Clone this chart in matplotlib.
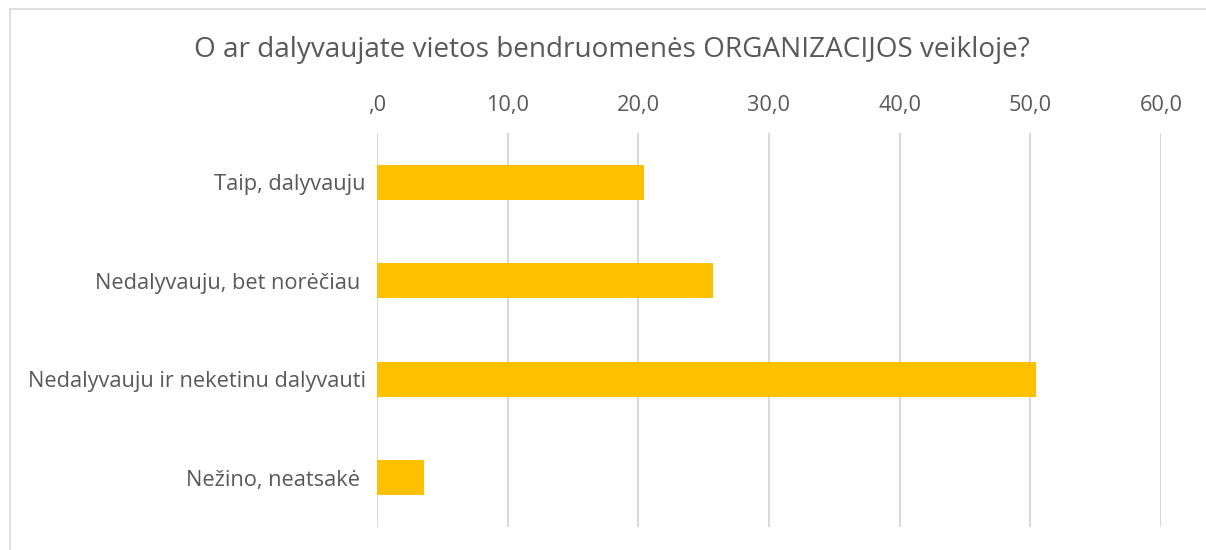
import matplotlib
matplotlib.use("Agg")
import matplotlib.pyplot as plt
from matplotlib.patches import Rectangle

categories = ["Taip, dalyvauju", "Nedalyvauju, bet norėčiau ", "Nedalyvauju ir neketinu dalyvauti", "Nežino, neatsakė "]
values = [20.4, 25.7, 50.4, 3.6]
tick_values = [0, 10, 20, 30, 40, 50, 60]
tick_labels = [",0", "10,0", "20,0", "30,0", "40,0", "50,0", "60,0"]
title = "O ar dalyvaujate vietos bendruomenės ORGANIZACIJOS veikloje?"

plt.rcParams['font.family'] = ['Open Sans', 'DejaVu Sans']
text_color = "#595959"
grid_color = "#d9d9d9"
bar_color = "#FFC000"

fig = plt.figure(figsize=(12.06, 5.5), dpi=100)
ax = fig.add_axes([377/1206, 1-527/550, (1161-377)/1206, (527-133)/550])

y = list(range(len(categories)))
ax.barh(y, values, height=0.355, color=bar_color, zorder=3)
ax.set_ylim(len(categories)-0.5, -0.5)
ax.set_xlim(0, 60)
ax.set_yticks(y)
ax.set_yticklabels(categories, fontsize=15.7, color=text_color)
ax.set_xticks(tick_values)
ax.set_xticklabels(tick_labels, fontsize=15.7, color=text_color)
ax.xaxis.tick_top()
ax.tick_params(axis='x', length=0, pad=12)
ax.tick_params(axis='y', length=0, pad=8)
ax.grid(axis='x', color=grid_color, linewidth=1.5, zorder=0)
for s in ax.spines.values():
    s.set_visible(False)

fig.text(0.507, 1-50/550, title, ha='center', va='center', fontsize=20.1, color=text_color)

fig.patches.append(Rectangle((10/1206, -0.1), 2, 1-9/550+0.1, transform=fig.transFigure,
                             fill=False, edgecolor=grid_color, linewidth=1.2))

fig.savefig("out.png", dpi=100)
